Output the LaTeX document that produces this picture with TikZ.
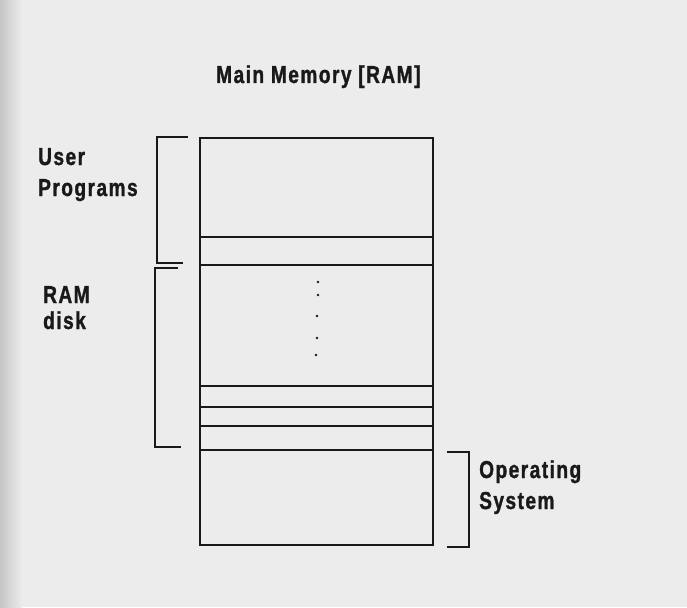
\documentclass[tikz,border=0pt]{standalone}
\usepackage{fontspec}
\newfontfamily\lbl{Liberation Sans}[FakeStretch=0.78, LetterSpace=6, FakeBold=1.2]
\definecolor{paper}{RGB}{236,236,236}
\definecolor{ink}{RGB}{25,25,25}
\tikzset{
  label/.style={inner sep=0pt, anchor=base west, text=ink, font=\lbl\bfseries\fontsize{24.5}{24.5}\selectfont},
  boxline/.style={draw=ink, line width=1.9pt},
  brace/.style={draw=ink, line width=1.6pt},
  dot/.style={fill=ink, circle, inner sep=0pt, minimum size=2.6pt}
}
\begin{document}
\begin{tikzpicture}[x=1pt,y=-1pt]
\useasboundingbox (0,0) rectangle (687,607);
\fill[paper] (0,0) rectangle (687,607);
\shade[left color=gray!45, right color=paper] (0,0) rectangle (22,607);
% title
\node[label] (title) at (216,83) {Main Memory [RAM]};
% memory box
\coordinate (tl) at (200,138);
\coordinate (br) at (433,545);
\draw[boxline] (tl) rectangle (br);
\foreach \y/\n in {237/a,265/b,386/c,407/d,426/e,450/f}{
  \coordinate (l\n) at (200,\y);
  \coordinate (r\n) at (433,\y);
  \draw[boxline] (l\n) -- (r\n);
}
% dots
\node[dot] (d1) at (318,282) {};
\node[dot] (d2) at (318,295) {};
\node[dot] (d3) at (317,316) {};
\node[dot] (d4) at (317,338) {};
\node[dot] (d5) at (316,355) {};
% brackets
\coordinate (u1) at (188,137);
\coordinate (u2) at (157,137);
\coordinate (u3) at (157,263);
\coordinate (u4) at (183,263);
\draw[brace] (u1) -- (u2) -- (u3) -- (u4);
\coordinate (k1) at (178,268);
\coordinate (k2) at (155,268);
\coordinate (k3) at (155,447);
\coordinate (k4) at (181,447);
\draw[brace] (k1) -- (k2) -- (k3) -- (k4);
\coordinate (o1) at (447,452);
\coordinate (o2) at (469,452);
\coordinate (o3) at (469,547);
\coordinate (o4) at (447,547);
\draw[brace] (o1) -- (o2) -- (o3) -- (o4);
% labels
\node[label] (user) at (38,165) {User};
\node[label] (prog) at (38,196) {Programs};
\node[label] (ram) at (43,303) {RAM};
\node[label] (disk) at (43,329) {disk};
\node[label] (op) at (479,478) {Operating};
\node[label] (sys) at (479,509) {System};
\end{tikzpicture}
\end{document}
